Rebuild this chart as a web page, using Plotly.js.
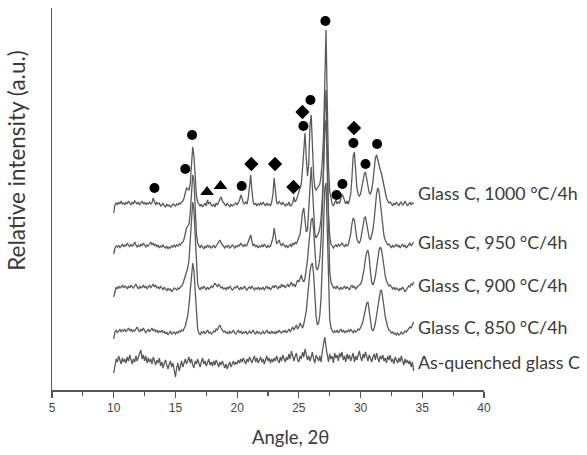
<!DOCTYPE html>
<html>
<head>
<meta charset="utf-8">
<script src="https://cdn.plot.ly/plotly-3.0.1.min.js"></script>
<style>body{margin:0;background:#fff}#chart{width:587px;height:455px}</style>
</head>
<body>
<div id="chart"></div>
<script>
// 2-theta grid: 10.0 .. 34.3 step 0.1 (244 points)
const angleStart = 10.0, angleStep = 0.1;

const seriesNames = ["Glass C, 1000 °C/4h", "Glass C, 950 °C/4h", "Glass C, 900 °C/4h", "Glass C, 850 °C/4h", "As-quenched glass C"];
const seriesOffsets = [184, 142, 100, 57, 25];

const glass1000 = [
 -7,1,3,1,4,2,5,2,3,1,
 4,2,5,3,1,4,2,5,3,2,
 4,1,3,5,2,4,1,3,2,4,
 2,3,8,3,1,4,2,3,0,1,
 3,0,-1,2,0,1,-1,0,2,1,
 0,2,1,3,2,4,5,8,14,18,
 17,16,22,40,59,50,28,10,4,2,
 0,2,-1,1,3,0,6,2,4,1,
 0,2,-1,3,1,4,6,9,5,3,
 2,0,3,1,-1,2,0,1,2,3,
 1,4,6,11,8,3,2,4,2,8,
 22,31,15,4,1,3,0,2,1,3,
 1,4,2,0,3,1,2,0,4,12,
 28,14,3,2,5,3,1,4,2,0,
 2,1,4,0,1,3,9,4,6,10,
 12,16,22,38,60,73,48,30,42,80,
 91,60,30,18,16,18,20,22,30,45,
 70,140,176,105,40,15,6,2,0,3,
 6,2,4,3,8,12,9,4,2,5,
 2,6,12,28,50,54,35,18,12,10,
 12,18,25,32,34,26,18,13,12,16,
 24,36,48,51,46,38,36,32,25,18,
 12,8,5,3,4,2,0,3,1,4,
 2,0,3,4,1,2,5,3,0,2,
 4,1,3,2
];

const glass950 = [
 -6,0,2,1,3,0,2,4,1,3,
 2,5,3,1,4,2,3,6,3,1,
 3,1,4,2,5,3,1,3,2,4,
 6,3,5,2,4,1,3,0,2,1,
 3,1,0,2,-1,1,0,2,1,3,
 1,3,2,4,3,5,6,9,15,20,
 22,24,35,55,73,68,40,14,5,2,
 0,3,1,-1,2,0,3,1,2,0,
 1,3,0,2,4,6,8,5,3,2,
 0,2,1,3,0,1,3,2,0,2,
 1,3,2,5,3,1,4,2,3,6,
 10,13,7,2,4,1,3,0,2,1,
 3,1,4,2,0,3,1,2,5,10,
 20,12,4,6,8,4,2,5,3,1,
 3,0,2,4,1,5,3,6,4,8,
 10,14,24,36,40,30,16,18,40,70,
 81,60,30,14,10,12,15,20,30,50,
 80,135,158,100,35,12,4,2,0,2,
 3,1,4,2,3,5,3,1,4,2,
 3,8,14,24,30,28,16,9,6,5,
 8,14,22,30,31,24,15,10,8,12,
 18,28,42,55,60,56,45,32,20,12,
 8,5,3,4,2,0,3,1,2,4,
 1,3,0,2,4,1,3,0,2,3,
 5,2,4,6
];

const glass900 = [
 -7,0,3,1,4,2,3,5,2,4,
 3,1,4,2,5,3,2,4,6,3,
 1,4,2,3,5,2,4,1,3,5,
 2,4,6,3,5,2,3,1,4,2,
 0,3,1,-1,2,0,1,-2,0,2,
 1,0,2,1,3,4,6,10,14,18,
 22,30,48,75,88,80,50,20,6,2,
 0,3,1,4,2,0,3,1,2,4,
 2,4,7,5,3,6,4,2,3,1,
 2,0,3,1,4,2,0,1,3,2,
 4,2,0,3,1,2,4,1,0,2,
 3,1,4,2,0,2,1,3,0,2,
 1,3,0,2,4,1,3,0,2,4,
 2,5,3,1,4,2,6,3,5,2,
 4,6,3,5,8,4,6,3,7,10,
 8,12,15,10,8,12,20,30,45,60,
 70,72,60,40,22,20,24,32,50,80,
 120,160,170,110,45,18,8,4,2,3,
 1,4,2,0,3,1,2,4,1,3,
 2,0,3,5,2,4,1,3,4,5,
 6,9,14,22,32,38,40,32,18,8,
 5,8,14,24,34,40,43,40,32,22,
 14,9,6,4,5,3,1,3,0,2,
 1,-1,2,0,3,1,-2,0,2,4,
 3,6,5,8
];

const glass850 = [
 -6,1,3,0,2,4,1,3,2,4,
 1,3,5,2,4,1,3,2,4,6,
 3,1,4,2,5,3,0,2,4,1,
 3,5,2,4,1,3,0,2,1,3,
 0,2,-1,1,-2,0,2,-1,0,1,
 -1,1,0,2,1,3,2,4,7,12,
 18,28,45,62,70,62,40,16,4,0,
 -2,1,0,2,-1,1,3,0,1,-1,
 0,2,1,4,3,6,8,5,3,1,
 2,0,1,-1,2,0,1,3,0,-1,
 1,3,0,2,-1,1,0,2,-1,0,
 2,0,1,3,0,-1,2,0,1,-1,
 0,2,-1,1,3,0,1,-1,2,0,
 1,-1,2,0,3,1,0,2,1,3,
 0,2,4,1,3,6,3,5,8,4,
 6,10,7,5,9,14,22,35,50,62,
 68,70,58,36,16,8,10,18,35,70,
 115,145,150,100,40,14,5,2,0,2,
 1,3,0,2,4,1,3,0,2,1,
 3,1,4,2,0,3,1,2,4,3,
 5,8,12,18,25,30,31,22,10,4,
 2,5,10,18,28,36,42,43,36,26,
 16,10,6,3,2,0,1,-1,0,-2,
 0,-2,-1,1,-1,0,2,1,3,4,
 6,5,9,11
];

const asQuenched = [
 -8,2,6,3,9,5,1,7,3,6,
 2,8,4,10,5,1,6,3,9,4,
 8,12,15,6,10,4,9,2,7,3,
 6,1,8,4,0,5,2,7,-1,3,
 -3,2,5,0,-4,1,4,-2,2,-5,
 -12,-3,2,-6,0,4,-2,3,6,1,
 5,8,2,6,0,-3,4,1,6,2,
 -2,3,7,1,4,-1,2,6,0,3,
 -1,4,0,5,2,-2,3,0,4,1,
 -3,1,-4,0,3,-2,1,4,0,3,
 1,5,2,6,3,7,4,1,6,3,
 8,4,2,6,9,3,7,2,5,8,
 3,6,1,5,9,4,7,2,6,3,
 7,4,9,5,2,8,4,10,6,3,
 8,5,11,6,14,7,4,9,12,5,
 3,9,6,13,8,16,10,5,9,4,
 8,13,6,2,10,7,4,9,3,14,
 20,28,18,8,3,11,6,9,2,12,
 7,10,4,12,8,13,5,9,3,11,
 6,10,4,8,12,3,9,5,11,14,
 8,4,11,7,13,9,4,10,6,3,
 8,11,5,12,7,3,9,6,10,4,
 7,2,9,5,10,3,6,1,8,4,
 2,7,3,9,4,0,6,2,5,1,
 4,-2,3,-6
];

// phase markers (angle, height in the same stacked units)
const circleX = [13.3, 15.8, 16.35, 20.37, 25.37, 25.94, 27.15, 28.05, 28.53, 29.42, 30.4, 31.34];
const circleY = [202, 221, 255, 204, 264, 290, 369, 195, 206, 247, 226, 246];
const diamondX = [21.15, 23.07, 24.56, 25.29, 29.47];
const diamondY = [226, 226, 203, 278, 262];
const triangleX = [17.56, 18.65];
const triangleY = [198, 204];

const seriesData = [glass1000, glass950, glass900, glass850, asQuenched];

const traces = seriesData.map((vals, k) => ({
  type: 'scatter', mode: 'lines',
  x: vals.map((_, i) => +(angleStart + i * angleStep).toFixed(2)),
  y: vals.map(v => v + seriesOffsets[k]),
  line: {color: '#5a5a5a', width: 1.3},
  name: seriesNames[k], hoverinfo: 'skip'
}));

traces.push({type:'scatter', mode:'markers', x: circleX, y: circleY,
  marker:{symbol:'circle', size:10, color:'#000'}, hoverinfo:'skip'});
traces.push({type:'scatter', mode:'markers', x: diamondX, y: diamondY,
  marker:{symbol:'diamond', size:11, color:'#000'}, hoverinfo:'skip'});
traces.push({type:'scatter', mode:'markers', x: triangleX, y: triangleY,
  marker:{symbol:'triangle-up', size:12, color:'#000'}, hoverinfo:'skip'});

const labelY = [197, 148, 105, 63, 28];
const txtFont = {family:'Lato, "Open Sans", sans-serif', size:17.8, color:'#3a3a3a'};

const annotations = seriesNames.map((n, k) => ({
  x: 34.45, y: labelY[k], xref:'x', yref:'y', text: n, showarrow:false,
  xanchor:'left', yanchor:'middle', font: txtFont
}));
annotations.push({x:0.551, y:-0.124, xref:'paper', yref:'paper', text:'Angle, 2θ',
  showarrow:false, xanchor:'center', yanchor:'middle',
  font: {family:'Lato, "Open Sans", sans-serif', size:18.5, color:'#3a3a3a'}});
annotations.push({x:-0.081, y:0.6, xref:'paper', yref:'paper', text:'Relative intensity (a.u.)',
  showarrow:false, textangle:-90, xanchor:'center', yanchor:'middle',
  font: {family:'Lato, "Open Sans", sans-serif', size:22.5, color:'#3a3a3a'}});

const layout = {
  width:587, height:455,
  margin:{l:52, r:103, t:8, b:65},
  paper_bgcolor:'#fff', plot_bgcolor:'#fff',
  showlegend:false,
  xaxis:{range:[5,40], dtick:5, tick0:5, ticks:'outside', ticklen:6, tickwidth:1.2, tickcolor:'#555',
    showline:true, linecolor:'#555', linewidth:1.5, showgrid:false, zeroline:false,
    tickfont:{family:'"Liberation Sans", Arial, sans-serif', size:12, color:'#444'},
    minor:{dtick:2.5, tick0:5, ticks:'outside', ticklen:4, tickwidth:1.2, tickcolor:'#555', showgrid:false}},
  yaxis:{range:[0,382], showline:true, linecolor:'#555', linewidth:1.5, ticks:'', showticklabels:false,
    showgrid:false, zeroline:false},
  annotations: annotations
};

Plotly.newPlot('chart', traces, layout, {displayModeBar:false, staticPlot:true});
</script>
</body>
</html>
